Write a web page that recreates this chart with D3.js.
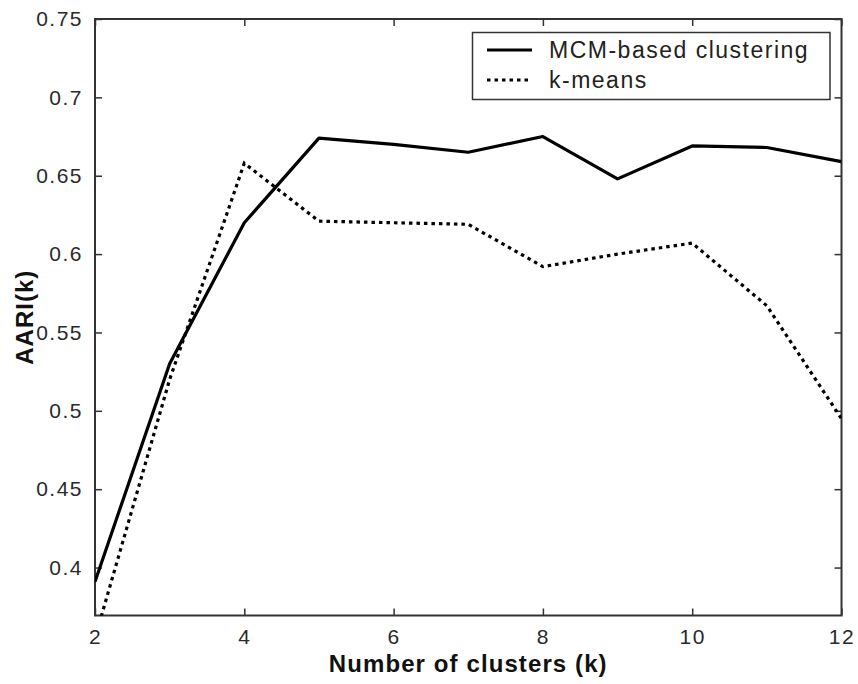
<!DOCTYPE html>
<html>
<head>
<meta charset="utf-8">
<script src="https://cdn.jsdelivr.net/npm/d3@7"></script>
<style>
  html, body { margin: 0; padding: 0; background: #fff; }
  svg { display: block; }
  text { font-family: "Liberation Sans", Arial, Helvetica, sans-serif; }
</style>
</head>
<body>
<svg id="chart" width="858" height="684"></svg>
<script>
// Number of clusters on the x axis
const clusters = [2, 3, 4, 5, 6, 7, 8, 9, 10, 11, 12];
// Average adjusted Rand index for each method
const mcmValues    = [0.391, 0.530, 0.620, 0.674, 0.670, 0.665, 0.675, 0.648, 0.669, 0.668, 0.659];
const kmeansValues = [0.355, 0.520, 0.658, 0.621, 0.620, 0.619, 0.592, 0.600, 0.607, 0.567, 0.495];
const seriesNames  = ["MCM-based clustering", "k-means"];
const xTicks = [2, 4, 6, 8, 10, 12];
const yTicks = [0.4, 0.45, 0.5, 0.55, 0.6, 0.65, 0.7, 0.75];

const svg = d3.select("#chart");
const plot = { left: 95, right: 841.5, top: 19, bottom: 615.5 };

const x = d3.scaleLinear().domain([2, 12]).range([plot.left, plot.right]);
const y = d3.scaleLinear().domain([0.3694, 0.75]).range([plot.bottom, plot.top]);

const axisColor = "#333";

// Clip the data lines to the axes box
svg.append("defs").append("clipPath").attr("id", "plotClip")
  .append("rect")
  .attr("x", plot.left).attr("y", plot.top)
  .attr("width", plot.right - plot.left).attr("height", plot.bottom - plot.top);

// Ticks pointing inward on all four sides
const tickLen = 7;
const styleAxis = g => {
  g.select(".domain").remove();
  g.selectAll(".tick line").attr("stroke", axisColor).attr("stroke-width", 1.5);
  g.selectAll(".tick text")
    .attr("fill", "#2a2a2a")
    .style("font-size", "21px")
    .style("letter-spacing", "1.5px");
};

svg.append("g")
  .attr("transform", `translate(0,${plot.bottom})`)
  .call(d3.axisBottom(x).tickValues(xTicks).tickFormat(d3.format("d"))
    .tickSizeInner(-tickLen).tickSizeOuter(0).tickPadding(14))
  .call(styleAxis);

svg.append("g")
  .attr("transform", `translate(0,${plot.top})`)
  .call(d3.axisTop(x).tickValues(xTicks).tickFormat("")
    .tickSizeInner(-tickLen).tickSizeOuter(0))
  .call(styleAxis);

svg.append("g")
  .attr("transform", `translate(${plot.left},0)`)
  .call(d3.axisLeft(y).tickValues(yTicks).tickFormat(d => String(+d.toFixed(2)))
    .tickSizeInner(-tickLen).tickSizeOuter(0).tickPadding(12))
  .call(styleAxis);

svg.append("g")
  .attr("transform", `translate(${plot.right},0)`)
  .call(d3.axisRight(y).tickValues(yTicks).tickFormat("")
    .tickSizeInner(-tickLen).tickSizeOuter(0))
  .call(styleAxis);

// Axes box
svg.append("rect")
  .attr("x", plot.left).attr("y", plot.top)
  .attr("width", plot.right - plot.left).attr("height", plot.bottom - plot.top)
  .attr("fill", "none").attr("stroke", axisColor).attr("stroke-width", 2);

// Data lines
const line = d3.line().x(d => x(d[0])).y(d => y(d[1]));
const lines = svg.append("g").attr("clip-path", "url(#plotClip)");

lines.append("path")
  .datum(clusters.map((k, i) => [k, mcmValues[i]]))
  .attr("d", line)
  .attr("fill", "none").attr("stroke", "#000").attr("stroke-width", 3.2)
  .attr("stroke-linejoin", "round");

lines.append("path")
  .datum(clusters.map((k, i) => [k, kmeansValues[i]]))
  .attr("d", line)
  .attr("fill", "none").attr("stroke", "#000").attr("stroke-width", 3.2)
  .attr("stroke-dasharray", "3.5,4");

// Axis titles
svg.append("text")
  .attr("x", (plot.left + plot.right) / 2).attr("y", 672)
  .attr("text-anchor", "middle")
  .attr("fill", "#111")
  .style("font-size", "24px").style("font-weight", "bold")
  .style("letter-spacing", "1.1px")
  .text("Number of clusters (k)");

svg.append("text")
  .attr("transform", `translate(33,${(plot.top + plot.bottom) / 2}) rotate(-90)`)
  .attr("text-anchor", "middle")
  .attr("fill", "#111")
  .style("font-size", "24px").style("font-weight", "bold")
  .style("letter-spacing", "1px")
  .text("AARI(k)");

// Legend
const legend = svg.append("g");
legend.append("rect")
  .attr("x", 472.5).attr("y", 32.5).attr("width", 357.5).attr("height", 67)
  .attr("fill", "#fff").attr("stroke", axisColor).attr("stroke-width", 1.5);

const legendRows = [
  { name: seriesNames[0], dash: null, y: 50 },
  { name: seriesNames[1], dash: "3.5,4", y: 80 }
];
legendRows.forEach(r => {
  legend.append("line")
    .attr("x1", 487).attr("x2", 532).attr("y1", r.y).attr("y2", r.y)
    .attr("stroke", "#000").attr("stroke-width", 3.2)
    .attr("stroke-dasharray", r.dash);
  legend.append("text")
    .attr("x", 549).attr("y", r.y)
    .attr("dy", "0.36em")
    .attr("fill", "#222")
    .style("font-size", "23px")
    .style("letter-spacing", "1.5px")
    .text(r.name);
});
</script>
</body>
</html>
